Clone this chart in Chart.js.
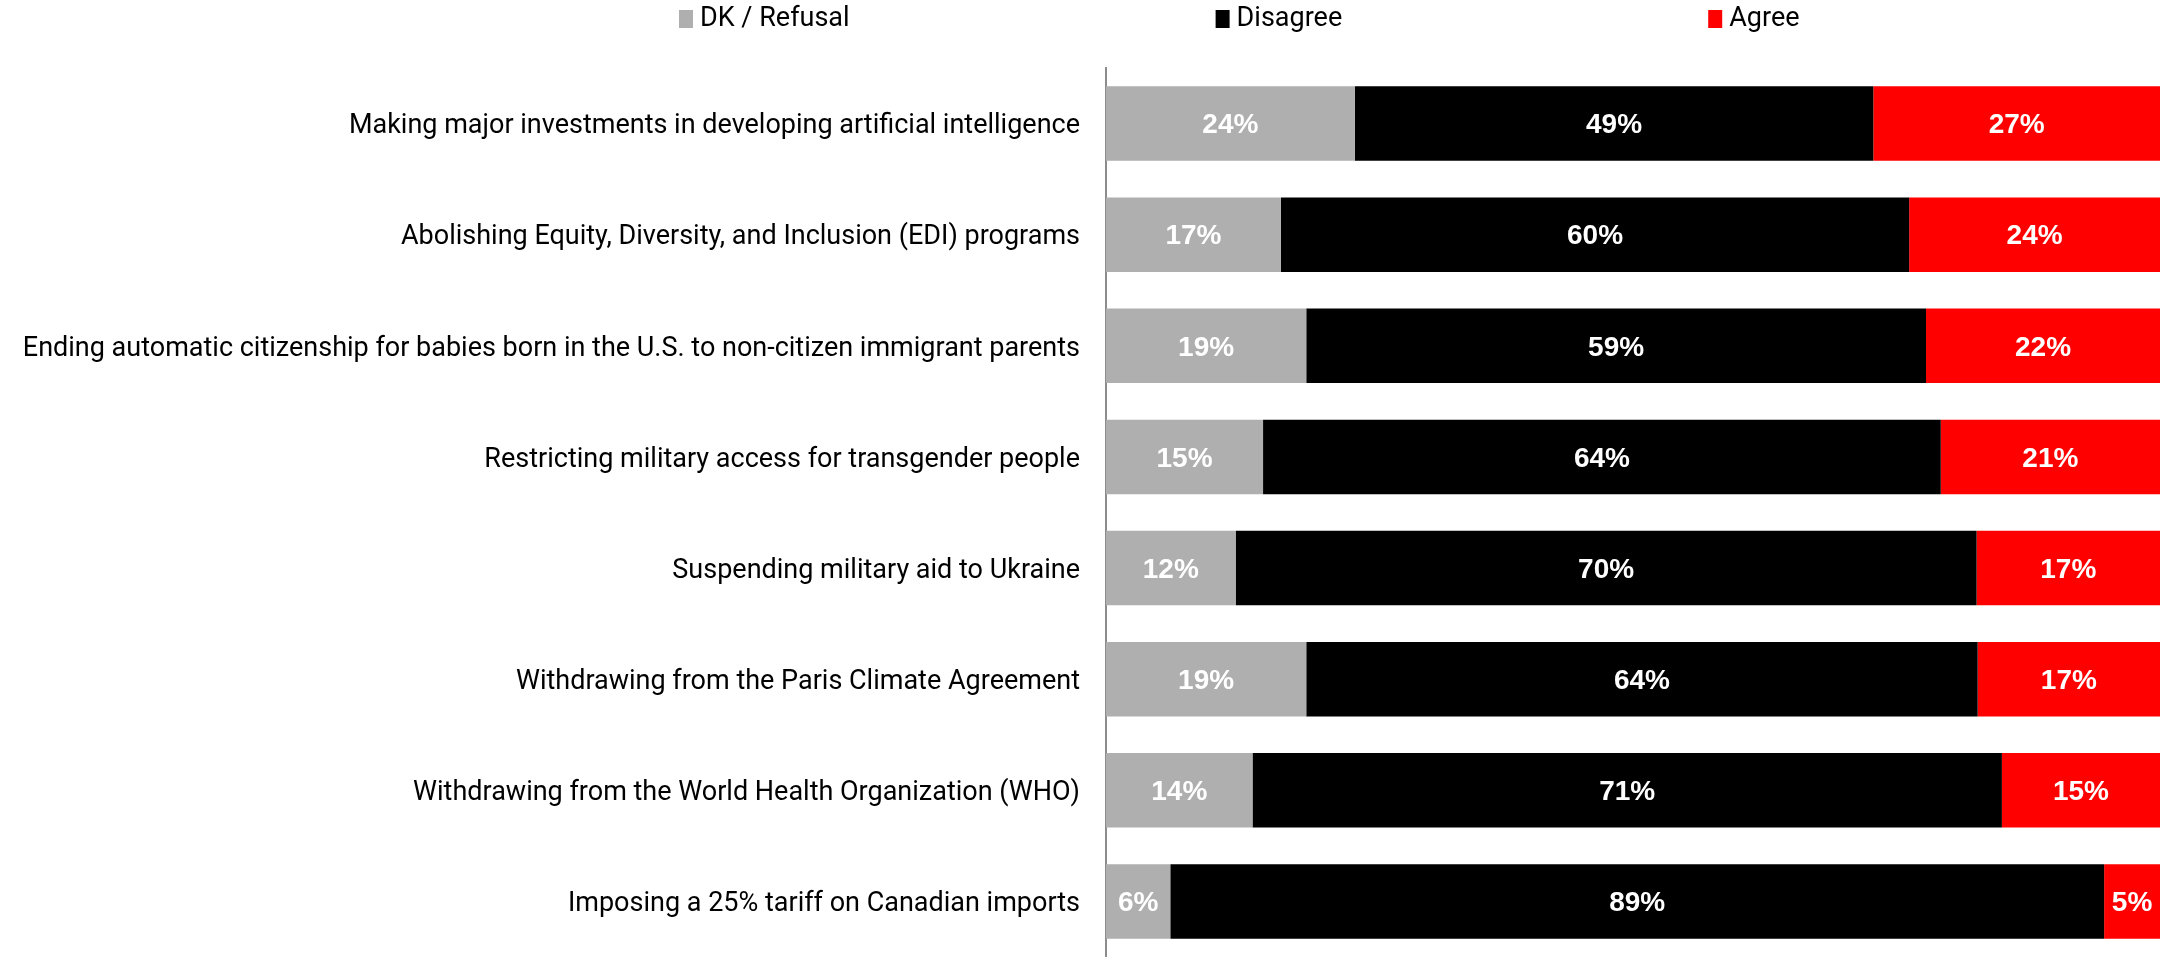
<!DOCTYPE html>
<html>
<head>
<meta charset="utf-8">
<script src="https://cdn.jsdelivr.net/npm/chart.js@4.4.1/dist/chart.umd.min.js"></script>
<style>
  html, body { margin: 0; padding: 0; background: #fff; overflow: hidden; }
</style>
</head>
<body>
<canvas id="chart" width="2164" height="957"></canvas>
<script>
// categories, top to bottom
var categories = [
  'Making major investments in developing artificial intelligence',
  'Abolishing Equity, Diversity, and Inclusion (EDI) programs',
  'Ending automatic citizenship for babies born in the U.S. to non-citizen immigrant parents',
  'Restricting military access for transgender people',
  'Suspending military aid to Ukraine',
  'Withdrawing from the Paris Climate Agreement',
  'Withdrawing from the World Health Organization (WHO)',
  'Imposing a 25% tariff on Canadian imports'
];

// shares in percent
var dkRefusal = [23.6, 16.6, 19.0, 14.9, 12.3, 19.0, 13.9, 6.1];
var disagree  = [49.2, 59.6, 58.8, 64.3, 70.3, 63.7, 71.1, 88.6];
var agree     = [27.2, 23.8, 22.2, 20.8, 17.4, 17.3, 15.0, 5.3];

var seriesNames = ['DK / Refusal', 'Disagree', 'Agree'];
var seriesColors = ['#afafaf', '#000000', '#ff0000'];

var labelFont = '27px Roboto';

// white % labels in the middle of each segment
var segmentLabels = {
  id: 'segmentLabels',
  afterDatasetsDraw: function (chart) {
    var ctx = chart.ctx;
    ctx.save();
    ctx.fillStyle = '#ffffff';
    ctx.font = 'bold 28px "Liberation Sans", Arial, sans-serif';
    ctx.textAlign = 'center';
    ctx.textBaseline = 'middle';
    chart.data.datasets.forEach(function (ds, i) {
      var meta = chart.getDatasetMeta(i);
      meta.data.forEach(function (bar, j) {
        var p = bar.getProps(['x', 'y', 'base'], true);
        ctx.fillText(Math.round(ds.data[j]) + '%', (p.x + p.base) / 2, p.y + 2);
      });
    });
    ctx.restore();
  }
};

// legend along the top, squares + names with wide equal gaps
var topLegend = {
  id: 'topLegend',
  afterDraw: function (chart) {
    var ctx = chart.ctx;
    ctx.save();
    ctx.font = labelFont;
    ctx.textBaseline = 'middle';
    ctx.textAlign = 'left';
    var x = 679;
    var y = 19;
    chart.data.datasets.forEach(function (ds) {
      ctx.fillStyle = ds.backgroundColor;
      ctx.fillRect(x, y - 9, 14, 18);
      ctx.fillStyle = '#000';
      ctx.fillText(ds.label, x + 21, y);
      x += 21 + ctx.measureText(ds.label).width + 366;
    });
    ctx.restore();
  }
};

var ctx = document.getElementById('chart').getContext('2d');
var chart = new Chart(ctx, {
  type: 'bar',
  data: {
    labels: categories,
    datasets: [
      { label: seriesNames[0], data: dkRefusal, backgroundColor: seriesColors[0] },
      { label: seriesNames[1], data: disagree, backgroundColor: seriesColors[1] },
      { label: seriesNames[2], data: agree, backgroundColor: seriesColors[2] }
    ]
  },
  options: {
    indexAxis: 'y',
    responsive: false,
    animation: false,
    barPercentage: 0.67,
    categoryPercentage: 1.0,
    layout: { padding: { top: 68, right: 4, bottom: 0, left: 0 } },
    plugins: {
      legend: { display: false },
      tooltip: { enabled: false }
    },
    scales: {
      x: {
        stacked: true,
        min: 0,
        max: 100,
        display: false
      },
      y: {
        stacked: true,
        grid: { display: false, drawTicks: false },
        border: { display: true, color: '#8c8c8c', width: 2 },
        ticks: {
          color: '#000',
          padding: 26,
          labelOffset: 3,
          font: { family: 'Roboto', size: 27 }
        },
        afterFit: function (scale) {
          scale.width = 1106;
          // let the bars run to the bottom edge like the original
          scale.paddingTop = 0;
          scale.paddingBottom = 0;
        }
      }
    }
  },
  plugins: [segmentLabels, topLegend]
});
</script>
</body>
</html>
